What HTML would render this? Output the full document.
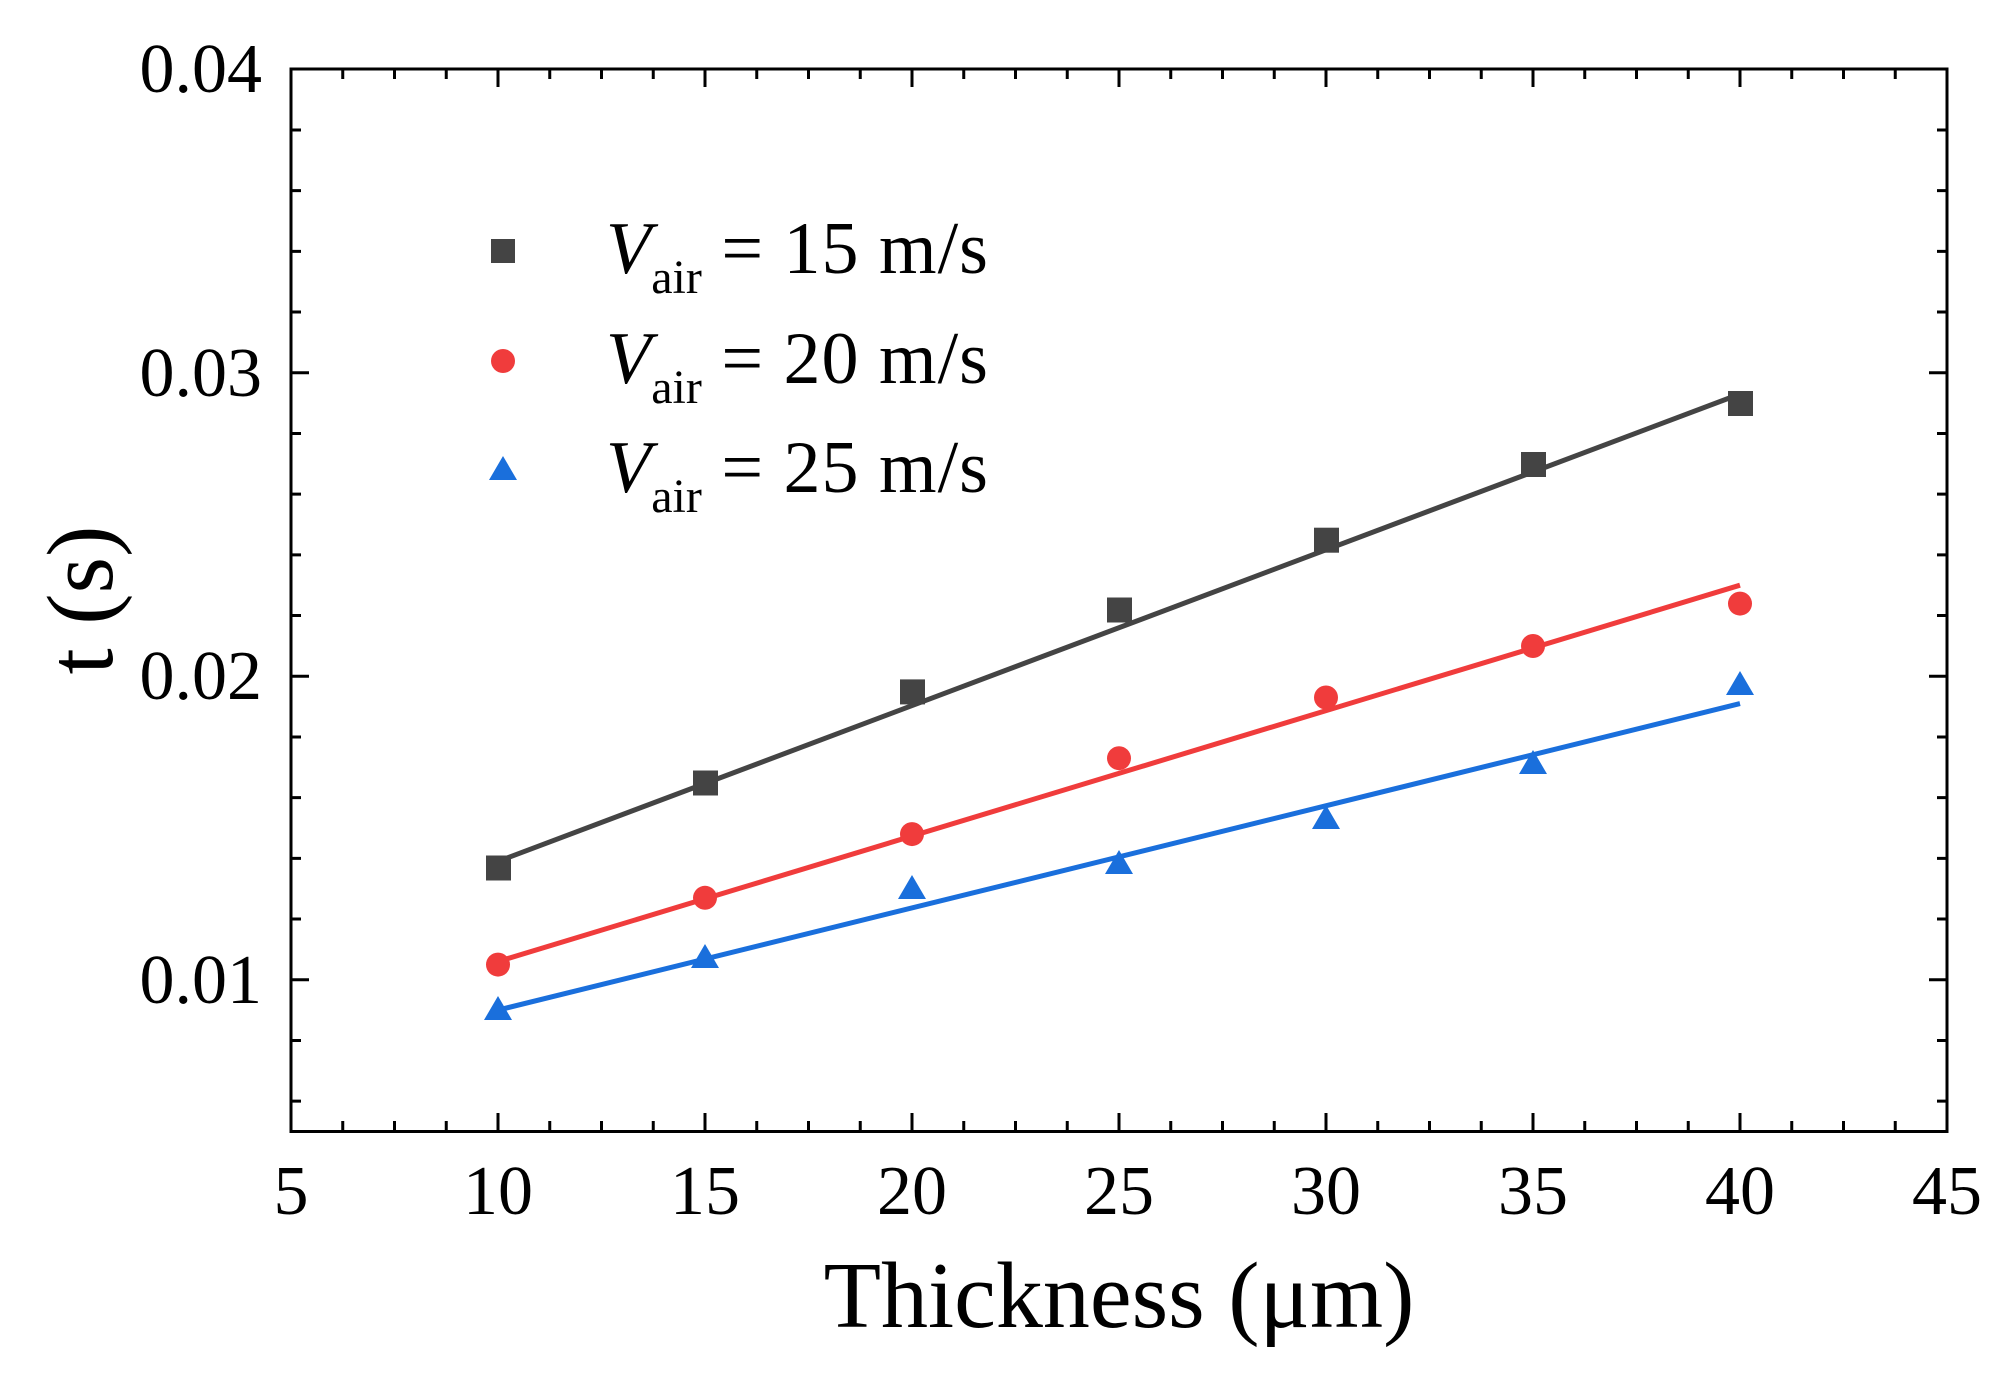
<!DOCTYPE html>
<html><head><style>html,body{margin:0;padding:0;background:#fff}</style></head>
<body>
<svg width="1998" height="1368" xmlns="http://www.w3.org/2000/svg" font-family="Liberation Serif, serif">
<rect width="1998" height="1368" fill="#fff"/>
<g stroke="#000" stroke-width="3" fill="none">
<rect x="291" y="69" width="1656" height="1062.5"/>
</g>
<g font-size="70" text-anchor="middle">
<text x="291" y="1214">5</text><text x="498" y="1214">10</text><text x="705" y="1214">15</text><text x="912" y="1214">20</text><text x="1119" y="1214">25</text><text x="1326" y="1214">30</text><text x="1533" y="1214">35</text><text x="1740" y="1214">40</text><text x="1947" y="1214">45</text>
</g>
<g font-size="70" text-anchor="end">
<text x="262" y="92">0.04</text><text x="262" y="396">0.03</text><text x="262" y="699">0.02</text><text x="262" y="1003">0.01</text>
</g>
<text x="1119" y="1327" font-size="94" text-anchor="middle">Thickness (μm)</text>
<text transform="translate(112,600) rotate(-90)" font-size="94" text-anchor="middle">t (s)</text>
<line x1="498" y1="861.4" x2="1740" y2="394" stroke="#444" stroke-width="5"/>
<line x1="498" y1="961.5" x2="1740" y2="585.2" stroke="#f03c3c" stroke-width="5"/>
<line x1="498" y1="1010.1" x2="1740" y2="703.6" stroke="#1a6fdc" stroke-width="5"/>
<g fill="#444">
<rect x="486" y="855.5" width="25" height="25"/><rect x="693" y="770.5" width="25" height="25"/><rect x="900" y="679.4" width="25" height="25"/><rect x="1107" y="597.5" width="25" height="25"/><rect x="1314" y="527.7" width="25" height="25"/><rect x="1521" y="452" width="25" height="25"/><rect x="1728" y="391" width="25" height="25"/>
<rect x="491" y="239" width="24" height="24"/>
</g>
<g fill="#f03c3c">
<circle cx="498" cy="964.6" r="12"/><circle cx="705" cy="897.8" r="12"/><circle cx="912" cy="834.1" r="12"/><circle cx="1119" cy="758.2" r="12"/><circle cx="1326" cy="697.5" r="12"/><circle cx="1533" cy="646" r="12"/><circle cx="1740" cy="603.6" r="12"/>
<circle cx="503" cy="361" r="12"/>
</g>
<g fill="#1a6fdc">
<path d="M498 996 l14 24 h-28z"/><path d="M705 944 l14 24 h-28z"/><path d="M912 875 l14 24 h-28z"/><path d="M1119 850 l14 24 h-28z"/><path d="M1326 805 l14 24 h-28z"/><path d="M1533 750 l14 24 h-28z"/><path d="M1740 671 l14 24 h-28z"/>
<path d="M503 456 l14 24 h-28z"/>
</g>
<g font-size="74">
<text x="606" y="273"><tspan font-style="italic">V</tspan><tspan font-size="48" dy="20">air</tspan><tspan dy="-20" letter-spacing="1"> = 15 m/s</tspan></text>
<text x="606" y="383"><tspan font-style="italic">V</tspan><tspan font-size="48" dy="20">air</tspan><tspan dy="-20" letter-spacing="1"> = 20 m/s</tspan></text>
<text x="606" y="492"><tspan font-style="italic">V</tspan><tspan font-size="48" dy="20">air</tspan><tspan dy="-20" letter-spacing="1"> = 25 m/s</tspan></text>
</g>
<g stroke="#000" stroke-width="3">
<path d="M291 1131v-18M342.75 1131v-10M394.5 1131v-10M446.25 1131v-10M498 1131v-18M549.75 1131v-10M601.5 1131v-10M653.25 1131v-10M705 1131v-18M756.75 1131v-10M808.5 1131v-10M860.25 1131v-10M912 1131v-18M963.75 1131v-10M1015.5 1131v-10M1067.25 1131v-10M1119 1131v-18M1170.75 1131v-10M1222.5 1131v-10M1274.25 1131v-10M1326 1131v-18M1377.75 1131v-10M1429.5 1131v-10M1481.25 1131v-10M1533 1131v-18M1584.75 1131v-10M1636.5 1131v-10M1688.25 1131v-10M1740 1131v-18M1791.75 1131v-10M1843.5 1131v-10M1895.25 1131v-10"/>
<path d="M291 69v18M342.75 69v10M394.5 69v10M446.25 69v10M498 69v18M549.75 69v10M601.5 69v10M653.25 69v10M705 69v18M756.75 69v10M808.5 69v10M860.25 69v10M912 69v18M963.75 69v10M1015.5 69v10M1067.25 69v10M1119 69v18M1170.75 69v10M1222.5 69v10M1274.25 69v10M1326 69v18M1377.75 69v10M1429.5 69v10M1481.25 69v10M1533 69v18M1584.75 69v10M1636.5 69v10M1688.25 69v10M1740 69v18M1791.75 69v10M1843.5 69v10M1895.25 69v10"/>
<path d="M291 1101.15h10M291 1040.45h10M291 979.75h18M291 919.05h10M291 858.35h10M291 797.65h10M291 736.95h10M291 676.25h18M291 615.55h10M291 554.85h10M291 494.15h10M291 433.45h10M291 372.75h18M291 312.05h10M291 251.35h10M291 190.65h10M291 129.95h10"/>
<path d="M1947 1101.15h-10M1947 1040.45h-10M1947 979.75h-18M1947 919.05h-10M1947 858.35h-10M1947 797.65h-10M1947 736.95h-10M1947 676.25h-18M1947 615.55h-10M1947 554.85h-10M1947 494.15h-10M1947 433.45h-10M1947 372.75h-18M1947 312.05h-10M1947 251.35h-10M1947 190.65h-10M1947 129.95h-10"/>
</g>
</svg>
</body></html>
